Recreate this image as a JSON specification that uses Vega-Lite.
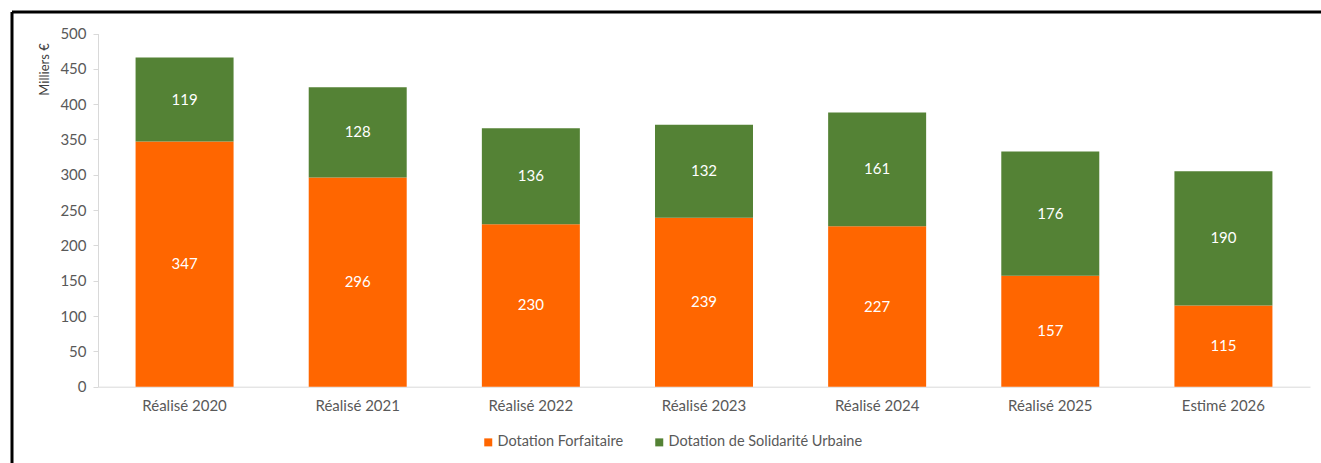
{
  "$schema": "https://vega.github.io/schema/vega-lite/v6.json",
  "width": 1309,
  "height": 451,
  "autosize": {"type": "none"},
  "padding": {"left": 12, "top": 12, "right": 0, "bottom": 0},
  "background": "white",
  "config": {
    "font": "Lato",
    "view": {"stroke": "black", "strokeWidth": 3, "strokeDash": [1309, 1760, 451, 0]}
  },
  "data": {
    "values": [
      {"annee": "Réalisé 2020", "serie": "Dotation Forfaitaire", "valeur": 347},
      {"annee": "Réalisé 2020", "serie": "Dotation de Solidarité Urbaine", "valeur": 119},
      {"annee": "Réalisé 2021", "serie": "Dotation Forfaitaire", "valeur": 296},
      {"annee": "Réalisé 2021", "serie": "Dotation de Solidarité Urbaine", "valeur": 128},
      {"annee": "Réalisé 2022", "serie": "Dotation Forfaitaire", "valeur": 230},
      {"annee": "Réalisé 2022", "serie": "Dotation de Solidarité Urbaine", "valeur": 136},
      {"annee": "Réalisé 2023", "serie": "Dotation Forfaitaire", "valeur": 239},
      {"annee": "Réalisé 2023", "serie": "Dotation de Solidarité Urbaine", "valeur": 132},
      {"annee": "Réalisé 2024", "serie": "Dotation Forfaitaire", "valeur": 227},
      {"annee": "Réalisé 2024", "serie": "Dotation de Solidarité Urbaine", "valeur": 161},
      {"annee": "Réalisé 2025", "serie": "Dotation Forfaitaire", "valeur": 157},
      {"annee": "Réalisé 2025", "serie": "Dotation de Solidarité Urbaine", "valeur": 176},
      {"annee": "Estimé 2026", "serie": "Dotation Forfaitaire", "valeur": 115},
      {"annee": "Estimé 2026", "serie": "Dotation de Solidarité Urbaine", "valeur": 190}
    ]
  },
  "encoding": {
    "x": {
      "field": "annee",
      "type": "nominal",
      "sort": null,
      "scale": {"range": [86, 1298], "paddingInner": 0.434, "paddingOuter": 0.217},
      "axis": {
        "title": null,
        "offset": -76.3,
        "labelAngle": 0,
        "ticks": false,
        "tickSize": 0,
        "labelPadding": 12,
        "labelFontSize": 15,
        "labelColor": "#595959",
        "domainColor": "#d9d9d9",
        "domainWidth": 1
      }
    },
    "order": {"field": "serie", "type": "nominal", "sort": "ascending"}
  },
  "layer": [
    {
      "mark": {"type": "bar"},
      "encoding": {
        "y": {
          "field": "valeur",
          "type": "quantitative",
          "stack": "zero",
          "scale": {"domain": [0, 500], "range": [374.7, 21.5], "nice": false},
          "axis": {
            "title": "Milliers €",
            "offset": -86,
            "values": [0, 50, 100, 150, 200, 250, 300, 350, 400, 450, 500],
            "grid": false,
            "tickSize": 5,
            "tickColor": "#d9d9d9",
            "domainColor": "#d9d9d9",
            "labelPadding": 7,
            "labelFontSize": 15,
            "labelColor": "#595959",
            "titleFontSize": 13,
            "titleFontWeight": "normal",
            "titleColor": "#404040",
            "titleAngle": -90,
            "titleAlign": "center",
            "titleBaseline": "middle",
            "titleX": -54,
            "titleY": 57
          }
        },
        "color": {
          "field": "serie",
          "type": "nominal",
          "scale": {
            "domain": ["Dotation Forfaitaire", "Dotation de Solidarité Urbaine"],
            "range": ["#FF6600", "#548235"]
          },
          "legend": {
            "title": null,
            "orient": "none",
            "direction": "horizontal",
            "legendX": 469,
            "legendY": 423,
            "padding": 0,
            "symbolType": "square",
            "symbolSize": 64,
            "symbolStrokeWidth": 0,
            "labelFontSize": 14.5,
            "labelColor": "#595959",
            "labelOffset": 2,
            "labelLimit": 400,
            "columnPadding": 28
          }
        }
      }
    },
    {
      "mark": {"type": "text", "color": "white", "fontSize": 15, "align": "center", "baseline": "middle"},
      "encoding": {
        "y": {
          "field": "valeur",
          "type": "quantitative",
          "stack": "zero",
          "bandPosition": 0.5
        },
        "detail": {"field": "serie", "type": "nominal"},
        "text": {"field": "valeur", "type": "quantitative"}
      }
    }
  ]
}
